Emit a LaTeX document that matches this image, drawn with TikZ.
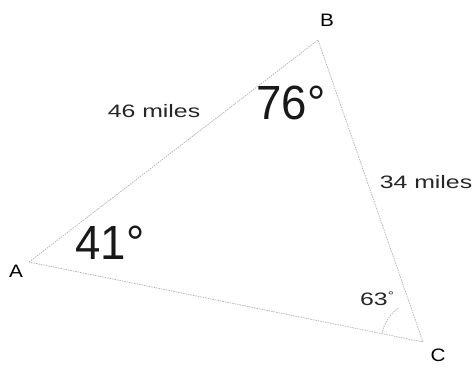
\documentclass[tikz,border=0pt]{standalone}
\usepackage{fontspec}
\setmainfont{Liberation Sans}
\begin{document}
\begin{tikzpicture}[x=1pt,y=-1pt,
  side/.style={draw=gray!60, line width=0.7pt, dash pattern=on 1.5pt off 1pt},
  vlabel/.style={font=\fontsize{18}{18}\selectfont, xscale=1.15},
  slabel/.style={font=\fontsize{18}{18}\selectfont, xscale=1.38, text=black!85},
  hand/.style={font=\fontsize{48}{48}\selectfont, xscale=0.95, text=black!90}]
\useasboundingbox (0,0) rectangle (476,367);
\fill[white] (0,0) rectangle (476,367);
\coordinate (A) at (29,262);
\coordinate (B) at (318,40);
\coordinate (C) at (423,342);
\draw[side] (A) -- (B) -- (C) -- cycle;
\draw[side] ([shift={(234:42)}]C) arc[start angle=234, end angle=192, radius=42];
\node[vlabel] (la) at (16,271) {A};
\node[vlabel] (lb) at (327,20) {B};
\node[vlabel] (lc) at (438,355) {C};
\node[slabel] (s1) at (154,111) {46 miles};
\node[slabel] (s2) at (426,182) {34 miles};
\node[slabel] (g) at (377,299) {63\raisebox{0.6ex}{\fontsize{11}{11}\selectfont°}};
\node[hand] (h1) at (291,103) {76°};
\node[hand] (h2) at (110,243) {41°};
\end{tikzpicture}
\end{document}
